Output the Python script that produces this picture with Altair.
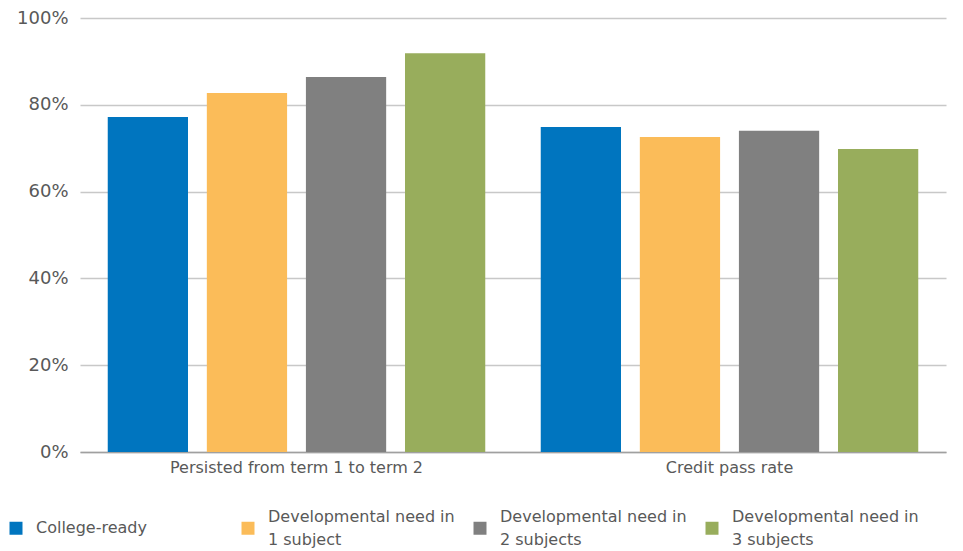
import altair as alt
import pandas as pd

groups = ["Persisted from term 1 to term 2", "Credit pass rate"]
series = ["College-ready", "Developmental need in|1 subject",
          "Developmental need in|2 subjects", "Developmental need in|3 subjects"]
colors = ["#0075BF", "#FBBC59", "#808080", "#98AD5C"]
persisted = [0.772, 0.827, 0.864, 0.919]
credit = [0.749, 0.726, 0.740, 0.698]

rows = []
for g, vals in zip(groups, [persisted, credit]):
    for s, v in zip(series, vals):
        rows.append({"group": g, "series": s, "value": v})
df = pd.DataFrame(rows)

HALF = 11.5  # half of the legend's two-line spacing
NB = "\u2800"  # blank spacer line so the symbol sits between the two label lines

legend_expr = (f"indexof(datum.label, '|') < 0 ? ['{NB}', datum.label, '{NB}'] : "
               f"[split(datum.label, '|')[0], '{NB}', split(datum.label, '|')[1]]")

chart = alt.Chart(df).mark_bar().encode(
    x=alt.X("group:N", sort=groups, title=None,
            scale=alt.Scale(paddingInner=0, paddingOuter=0),
            axis=alt.Axis(labelAngle=0, labelFont="DejaVu Sans", labelFontSize=16,
                          labelColor="#595959", ticks=False, domainColor="#a0a0a0",
                          domainWidth=1.5, labelPadding=7 + HALF, labelLimit=400)),
    xOffset=alt.XOffset("series:N", sort=series,
                        scale=alt.Scale(paddingInner=0.19, paddingOuter=0.28)),
    y=alt.Y("value:Q", title=None,
            scale=alt.Scale(domain=[0, 1], nice=False),
            axis=alt.Axis(format=".0%", values=[0, 0.2, 0.4, 0.6, 0.8, 1.0],
                          labelFont="DejaVu Sans", labelFontSize=18, labelColor="#595959",
                          ticks=False, domain=False, gridColor="#c8c8c8", gridWidth=1.5,
                          labelPadding=12, labelOffset=HALF)),
    color=alt.Color("series:N", sort=series,
                    scale=alt.Scale(domain=series, range=colors),
                    legend=alt.Legend(title=None, orient="none", legendX=-72, legendY=502,
                                      direction="horizontal", columns=4, gridAlign="all",
                                      columnPadding=17, symbolType="square", symbolSize=169,
                                      symbolStrokeWidth=0, symbolOpacity=1,
                                      labelFont="DejaVu Sans", labelFontSize=16,
                                      labelColor="#595959", labelOffset=12,
                                      labelLimit=300,
                                      labelExpr=legend_expr,
                                      labelBaseline="middle", padding=0)),
).properties(
    width=866, height=434,
    autosize=alt.AutoSizeParams(type="none"),
    padding={"left": 72, "top": 10, "right": 9, "bottom": 96},
).configure(
    style={"guide-label": {"lineHeight": HALF, "dy": -HALF}}
).configure_view(stroke=None).configure_axis(grid=True).configure_axisX(grid=False)

chart.save("out.html", embed_options={"renderer": "svg", "actions": False})
